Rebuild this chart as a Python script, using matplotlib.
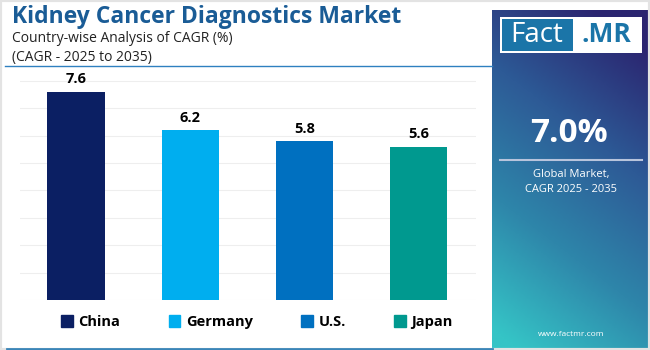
import numpy as np
import matplotlib.pyplot as plt
from matplotlib.patches import Rectangle
from matplotlib.colors import LinearSegmentedColormap

# data
countries = ["China", "Germany", "U.S.", "Japan"]
cagr = [7.6, 6.2, 5.8, 5.6]
bar_colors = ["#0b1f63", "#00aeef", "#0070c0", "#00998f"]
global_cagr = "7.0%"

title_txt = "Kidney Cancer Diagnostics Market"
sub1 = "Country-wise Analysis of CAGR (%)"
sub2 = "(CAGR - 2025 to 2035)"

plt.rcParams['font.family'] = ['Open Sans', 'DejaVu Sans']

fig = plt.figure(figsize=(6.5, 3.5), dpi=100)
fig.patch.set_facecolor("white")

W, H = 650, 350


def fx(px):
    return px / W


def fy(py):
    return 1 - py / H


# light border around the whole thing
fig.patches.append(Rectangle((0, 0), 1, 1, transform=fig.transFigure,
                             fill=False, ec="#e3e3e3", lw=3, zorder=0))

# gradient side panel
pax = fig.add_axes([fx(492), fy(350), fx(650 - 492), 340 / H])
cmap = LinearSegmentedColormap.from_list("fm", ["#35c4c6", "#2e86aa", "#2d5a96", "#2b2570"])
yy, xx = np.mgrid[0:1:200j, 0:1:100j]
grad = np.clip(0.85 * yy + 0.3 * xx - 0.05, 0, 1)
pax.imshow(grad, cmap=cmap, origin="lower", aspect="auto", extent=[0, 1, 0, 1], vmin=0, vmax=1)
pax.set_xlim(0, 1)
pax.set_ylim(0, 1)
pax.axis("off")

# logo
fig.patches.append(Rectangle((fx(500), fy(53)), fx(142), 36 / H, transform=fig.transFigure,
                             fc="white", ec="none", zorder=3))
fig.patches.append(Rectangle((fx(502), fy(51)), fx(71), 32 / H, transform=fig.transFigure,
                             fc="#1b75a8", ec="none", zorder=4))
fig.text(fx(537), fy(35), "Fact", color="white", fontsize=20, ha="center", va="center", zorder=5)
fig.text(fx(606), fy(35), ".MR", color="#1b75a8", fontsize=19, fontweight="bold",
         ha="center", va="center", zorder=5)

fig.text(fx(569), fy(133), global_cagr, color="white", fontsize=24, fontweight="bold",
         ha="center", va="center", zorder=5)
fig.lines.append(plt.Line2D([fx(500), fx(642)], [fy(160), fy(160)], transform=fig.transFigure,
                            color="#b8c4dc", lw=1.5, zorder=5))
fig.text(fx(571), fy(174), "Global Market,", color="white", fontsize=8,
         ha="center", va="center", zorder=5)
fig.text(fx(571), fy(190), "CAGR 2025 - 2035", color="white", fontsize=8,
         ha="center", va="center", zorder=5)
fig.text(fx(571), fy(334), "www.factmr.com", color="white", fontsize=6,
         ha="center", va="center", zorder=5)

# titles
fig.text(fx(12), fy(17), title_txt, color="#1a5c96", fontsize=16.5, fontweight="bold",
         ha="left", va="center")
fig.text(fx(12), fy(38), sub1, color="#222222", fontsize=10, ha="left", va="center")
fig.text(fx(12), fy(57), sub2, color="#222222", fontsize=10, ha="left", va="center")
fig.lines.append(plt.Line2D([fx(5), fx(492)], [fy(66), fy(66)], transform=fig.transFigure,
                            color="#2f80c0", lw=1))
fig.lines.append(plt.Line2D([fx(7), fx(492)], [fy(348.5), fy(348.5)], transform=fig.transFigure,
                            color="#3a85b8", lw=2))

# bar chart
ax = fig.add_axes([fx(20), fy(300), fx(456), 230 / H])
x = np.arange(len(countries))
bars = ax.bar(x, cagr, width=0.5, color=bar_colors, zorder=3)
for xi, v in zip(x, cagr):
    ax.text(xi, v + 0.2, f"{v}", ha="center", va="bottom", fontsize=10.5,
            fontweight="bold", color="black")
ax.set_xlim(-0.49, 3.5)
ax.set_ylim(0, 8.4)
ax.set_yticks(np.arange(0, 9, 1))
ax.grid(axis="y", color="#eeeeee", lw=0.8, zorder=0)
ax.set_xticks([])
ax.tick_params(left=False, labelleft=False)
for s in ax.spines.values():
    s.set_visible(False)

handles = [Rectangle((0, 0), 1, 1, color=c) for c in bar_colors]
fig.legend(handles, countries, loc="center", bbox_to_anchor=(fx(257), fy(322)), ncol=4,
           frameon=False, handlelength=0.8, handleheight=0.8, handletextpad=0.4,
           columnspacing=3.3, prop={"weight": "bold", "size": 10.5})

fig.savefig("out.png", dpi=100)
